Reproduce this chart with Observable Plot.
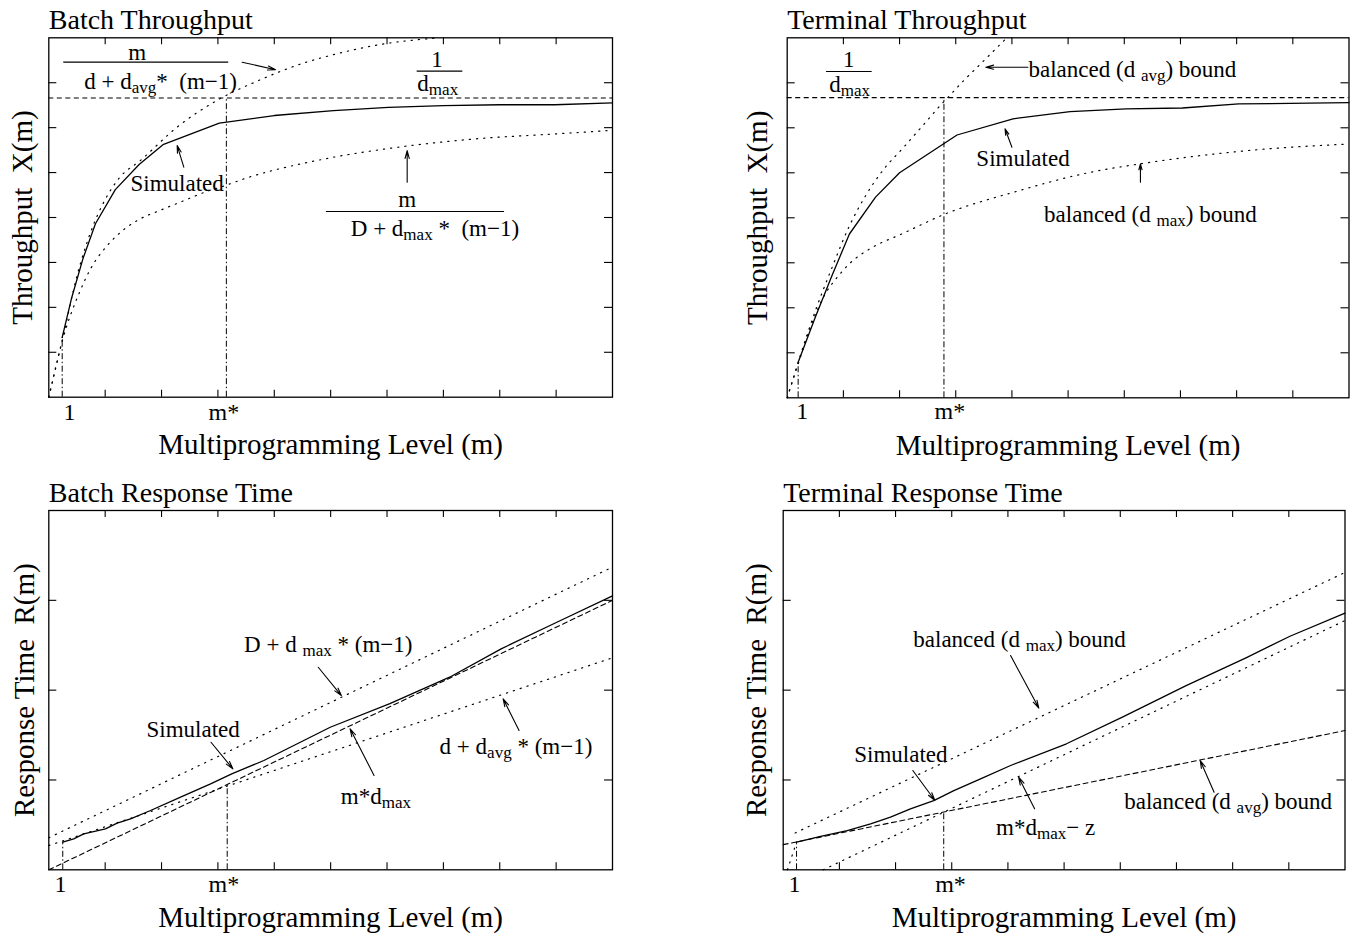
<!DOCTYPE html>
<html><head><meta charset="utf-8">
<script src="https://cdn.jsdelivr.net/npm/d3@7"></script>
<script src="https://cdn.jsdelivr.net/npm/@observablehq/plot@0.6"></script>
<style>
body{margin:0;background:#fff;}
#root{position:relative;width:1355px;height:937px;overflow:hidden;background:#fff}
.panel{position:absolute}
svg text{white-space:pre}
</style></head><body><div id="root"></div>
<script>
const FONT = '"Liberation Serif","Times New Roman",Times,serif';
const XLABEL = "Multiprogramming Level (m)";
const xTicks = [4, 8, 12, 16, 20, 24, 28, 32, 36];
const yTicksX = [1, 2, 3, 4, 5, 6, 7];
const yTicksR = [1, 2, 3];

// ---- Batch Throughput
const btSimM = [0.95, 1.63, 2.42, 3.31, 4.72, 6.41, 8.1, 12.1, 16.0, 20.2, 24.1, 28.0, 32.0, 35.9, 40];
const btSimX = [1.33, 2.22, 3.08, 3.86, 4.62, 5.18, 5.62, 6.10, 6.27, 6.38, 6.45, 6.49, 6.51, 6.51, 6.55];
const btUpM = [0, 1.0, 2.0, 3.0, 4.0, 5.0, 6.5, 9.1, 11.9, 14.75, 18.3, 19.9, 23.5, 27.7];
const btUpX = [0, 1.33, 2.7, 3.7, 4.4, 4.88, 5.27, 6.01, 6.60, 7.03, 7.46, 7.60, 7.85, 8.0];
const btLoM = [0, 1.0, 2.2, 3.04, 4.16, 5.28, 6.49, 7.9, 9.32, 11.21, 12.51, 14.04, 15.93, 18.29, 20.18, 24.67, 30.28, 35.92, 40];
const btLoX = [0, 1.30, 2.35, 2.90, 3.38, 3.72, 3.97, 4.16, 4.34, 4.58, 4.71, 4.88, 5.05, 5.22, 5.34, 5.56, 5.75, 5.86, 5.94];
const btCeil = 6.66, btMStar = 12.6, btOne = 0.95;

// ---- Terminal Throughput
const ttSimM = [0.78, 2.0, 3.14, 4.43, 6.29, 8.0, 12.09, 16.08, 20.14, 24.14, 28.14, 32.15, 40];
const ttSimX = [0.79, 1.79, 2.68, 3.64, 4.46, 5.0, 5.84, 6.2, 6.36, 6.42, 6.44, 6.53, 6.56];
const ttUpM = [0, 0.78, 2.0, 3.2, 4.4, 5.6, 6.8, 8.3, 9.85, 10.91, 11.46, 12.57, 13.77, 15.57];
const ttUpX = [0, 0.79, 1.93, 2.9, 3.8, 4.5, 5.05, 5.57, 6.12, 6.5, 6.68, 7.05, 7.42, 7.98];
const ttLoM = [0, 0.78, 1.57, 2.71, 3.57, 4.43, 6.0, 8.15, 11.29, 16.14, 21.57, 25.15, 33.0, 40];
const ttLoX = [0, 0.75, 1.5, 2.31, 2.68, 2.98, 3.33, 3.64, 4.09, 4.57, 5.01, 5.2, 5.5, 5.64];
const ttCeil = 6.67, ttMStar = 11.16, ttOne = 0.78;

// ---- Batch Response Time
const brSimM = [0.99, 1.77, 2.48, 4.02, 4.85, 5.8, 7.22, 9.35, 11.48, 13.02, 15.26, 19.97, 24.2, 28.44, 32.1, 36.05, 40];
const brSimR = [0.307, 0.345, 0.40, 0.456, 0.519, 0.568, 0.66, 0.81, 0.957, 1.07, 1.217, 1.587, 1.85, 2.144, 2.46, 2.756, 3.05];
const brUpM = [0, 40], brUpR = [0.357, 3.37];
const brLoM = [0, 40], brLoR = [0.27, 2.36];
const brDashM = [0, 40], brDashR = [0, 3.0];
const brMStar = 12.66, brMStarTop = 0.94, brOne = 0.99;

// ---- Terminal Response Time
const trSimM = [0.95, 1.71, 2.66, 4.56, 6.22, 7.64, 9.06, 10.72, 12.15, 14.05, 16.19, 20.17, 24.15, 28.69, 32.95, 36.08, 40];
const trSimR = [0.307, 0.337, 0.371, 0.437, 0.512, 0.586, 0.679, 0.771, 0.882, 1.013, 1.161, 1.403, 1.699, 2.05, 2.36, 2.6, 2.857];
const trUpM = [0.85, 40], trUpR = [0.41, 3.31];
const trStartM = [0.3, 0.95], trStartR = [0.0, 0.307];
const trLoM = [2.85, 40], trLoR = [0, 2.775];
const trDashM = [0, 40], trDashR = [0.28, 1.55];
const trMStar = 11.43, trMStarTop = 0.652, trOne = 0.95;

const rows = (ms, vs) => ms.map((m, i) => ({m, v: vs[i]}));
const SOLID = {strokeWidth: 1.3};
const DOT = {strokeWidth: 1.2, strokeDasharray: "1.2,6"};
const DASH = {strokeWidth: 1.1, strokeDasharray: "5,3.5"};
const DASHDOT = "6,2.5,1.5,2.5";

function subscripts(svg) {
  svg.querySelectorAll("text").forEach(t => {
    const s = t.textContent;
    if (!s.includes("_{")) return;
    t.textContent = "";
    const re = /_\{([^}]*)\}/g;
    let last = 0, m, down = false;
    const add = (str, sub) => {
      const ts = document.createElementNS("http://www.w3.org/2000/svg", "tspan");
      ts.textContent = str;
      if (sub) { ts.setAttribute("font-size", "17"); ts.setAttribute("dy", "4"); down = true; }
      else if (down) { ts.setAttribute("dy", "-4"); down = false; }
      t.appendChild(ts);
    };
    while ((m = re.exec(s))) {
      if (m.index > last) add(s.slice(last, m.index), false);
      add(m[1], true);
      last = re.lastIndex;
    }
    if (last < s.length) add(s.slice(last), false);
  });
}

function panel(c) {
  const innerW = c.width - c.mL - c.mR;
  const innerH = c.height - c.mT - c.mB;
  const marks = [
    Plot.frame({stroke: "black", strokeWidth: 1.3}),
    Plot.tickX(xTicks, {x: d => d, insetTop: innerH - 7, strokeWidth: 1.1}),
    Plot.tickX(xTicks, {x: d => d, insetBottom: innerH - 7, strokeWidth: 1.1}),
    Plot.tickY(c.yTicks, {y: d => d, insetRight: innerW - 8, strokeWidth: 1.1}),
    Plot.tickY(c.yTicks, {y: d => d, insetLeft: innerW - 8, strokeWidth: 1.1}),
    ...c.series.map(s => Plot.line(rows(s.m, s.v), {x: "m", y: "v", stroke: "black", curve: s.curve || "linear", ...s.style})),
    ...(c.ceil != null ? [Plot.ruleY([c.ceil], {y: d => d, stroke: "black", ...DASH})] : []),
    Plot.ruleX(c.vlines, {x: "x", y1: "y1", y2: "y2", stroke: "black", strokeWidth: 1, strokeDasharray: DASHDOT}),
    Plot.ruleY(c.fracs, {y: "y", x1: "x1", x2: "x2", stroke: "black", strokeWidth: 1.2}),
    Plot.arrow(c.arrows, {x1: "x1", y1: "y1", x2: "x2", y2: "y2", stroke: "black", strokeWidth: 1.1, headLength: 11, headAngle: 30}),
    Plot.text(c.notes, {x: "x", y: "y", text: "t", fontSize: 23, fontFamily: FONT, lineAnchor: "bottom", textAnchor: "middle"}),
    Plot.text(c.tickLabels, {x: "x", text: "t", frameAnchor: "bottom", dy: c.tickDy, lineAnchor: "bottom", textAnchor: "middle", fontSize: 24, fontFamily: FONT}),
    Plot.text([c.title], {text: d => d, frameAnchor: "top-left", textAnchor: "start", lineAnchor: "bottom", dy: -9, fontSize: 28, fontFamily: FONT}),
    Plot.text([XLABEL], {text: d => d, frameAnchor: "bottom", textAnchor: "middle", lineAnchor: "bottom", dy: 57, fontSize: 29, fontFamily: FONT}),
    Plot.text([c.ylabel], {text: d => d, frameAnchor: "left", textAnchor: "middle", rotate: -90, lineAnchor: "middle", dx: c.yDx, fontSize: 29, fontFamily: FONT})
  ];
  const svg = Plot.plot({
    width: c.width, height: c.height,
    marginLeft: c.mL, marginRight: c.mR, marginTop: c.mT, marginBottom: c.mB,
    x: {domain: [0, 40], axis: null},
    y: {domain: [0, c.yMax], axis: null},
    style: {background: "white", fontFamily: FONT, color: "black", overflow: "visible"},
    marks
  });
  subscripts(svg);
  const div = document.createElement("div");
  div.className = "panel";
  div.style.left = c.left + "px";
  div.style.top = c.top + "px";
  div.appendChild(svg);
  document.getElementById("root").appendChild(div);
}

panel({
  left: 0, top: 0, width: 677, height: 468, mL: 48.3, mR: 65, mT: 37.3, mB: 71.3, yMax: 8, yTicks: yTicksX,
  title: "Batch Throughput", ylabel: "Throughput  X(m)", yDx: -26, tickDy: 22.6,
  series: [
    {m: btSimM, v: btSimX, style: SOLID},
    {m: btUpM, v: btUpX, style: DOT, curve: "monotone-x"},
    {m: btLoM, v: btLoX, style: DOT, curve: "monotone-x"}
  ],
  ceil: btCeil,
  vlines: [{x: btMStar, y1: 0, y2: btCeil}, {x: btOne, y1: 0, y2: btSimX[0]}],
  fracs: [{x1: 1.06, x2: 12.77, y: 7.457}, {x1: 26.14, x2: 29.38, y: 7.256}, {x1: 19.7, x2: 32.34, y: 4.134}],
  arrows: [{x1: 13.72, y1: 7.457, x2: 16.09, y2: 7.29}, {x1: 9.58, y1: 5.12, x2: 9.11, y2: 5.60}, {x1: 25.43, y1: 4.786, x2: 25.43, y2: 5.49}],
  notes: [
    {t: "m", x: 6.27, y: 7.495},
    {t: "d + d_{avg}*  (m−1)", x: 7.93, y: 6.865},
    {t: "1", x: 27.55, y: 7.345},
    {t: "d_{max}", x: 27.6, y: 6.805},
    {t: "Simulated", x: 9.11, y: 4.585},
    {t: "m", x: 25.43, y: 4.23},
    {t: "D + d_{max} *  (m−1)", x: 27.4, y: 3.599}
  ],
  tickLabels: [{t: "1", x: 1.47}, {t: "m*", x: 12.42}]
});

panel({
  left: 677, top: 0, width: 678, height: 468, mL: 109.7, mR: 6.5, mT: 37.3, mB: 70.7, yMax: 8, yTicks: yTicksX,
  title: "Terminal Throughput", ylabel: "Throughput  X(m)", yDx: -29, tickDy: 21,
  series: [
    {m: ttSimM, v: ttSimX, style: SOLID},
    {m: ttUpM, v: ttUpX, style: DOT, curve: "monotone-x"},
    {m: ttLoM, v: ttLoX, style: DOT, curve: "monotone-x"}
  ],
  ceil: ttCeil,
  vlines: [{x: ttMStar, y1: 0, y2: ttCeil}, {x: ttOne, y1: 0, y2: ttSimX[0]}],
  fracs: [{x1: 2.8, x2: 6.05, y: 7.251}],
  arrows: [{x1: 17.14, y1: 7.347, x2: 14.14, y2: 7.347}, {x1: 16.0, y1: 5.569, x2: 15.51, y2: 5.978}, {x1: 25.15, y1: 4.79, x2: 25.15, y2: 5.2}],
  notes: [
    {t: "1", x: 4.39, y: 7.347},
    {t: "d_{max}", x: 4.44, y: 6.796},
    {t: "balanced (d _{avg}) bound", x: 24.58, y: 7.14},
    {t: "Simulated", x: 16.79, y: 5.162},
    {t: "balanced (d _{max}) bound", x: 25.86, y: 3.902}
  ],
  tickLabels: [{t: "1", x: 1.07}, {t: "m*", x: 11.58}]
});

panel({
  left: 0, top: 468, width: 677, height: 469, mL: 48.3, mR: 65, mT: 42, mB: 67.7, yMax: 4, yTicks: yTicksR,
  title: "Batch Response Time", ylabel: "Response Time  R(m)", yDx: -23.7, tickDy: 21.7,
  series: [
    {m: brSimM, v: brSimR, style: SOLID},
    {m: brUpM, v: brUpR, style: DOT},
    {m: brLoM, v: brLoR, style: DOT},
    {m: brDashM, v: brDashR, style: DASH}
  ],
  ceil: null,
  vlines: [{x: brMStar, y1: 0, y2: brMStarTop}, {x: brOne, y1: 0, y2: brSimR[0]}],
  fracs: [],
  arrows: [{x1: 19.12, y1: 2.255, x2: 20.76, y2: 1.94}, {x1: 11.51, y1: 1.42, x2: 13.06, y2: 1.124}, {x1: 23.08, y1: 1.05, x2: 21.38, y2: 1.57}, {x1: 33.37, y1: 1.551, x2: 32.24, y2: 1.904}],
  notes: [
    {t: "D + d _{max} * (m−1)", x: 19.83, y: 2.422},
    {t: "Simulated", x: 10.24, y: 1.476},
    {t: "m*d_{max}", x: 23.21, y: 0.735},
    {t: "d + d_{avg} * (m−1)", x: 33.15, y: 1.291}
  ],
  tickLabels: [{t: "1", x: 0.83}, {t: "m*", x: 12.42}]
});

panel({
  left: 677, top: 468, width: 678, height: 469, mL: 105.7, mR: 10.5, mT: 42, mB: 67.7, yMax: 4, yTicks: yTicksR,
  title: "Terminal Response Time", ylabel: "Response Time  R(m)", yDx: -26.7, tickDy: 21.7,
  series: [
    {m: trSimM, v: trSimR, style: SOLID},
    {m: trUpM, v: trUpR, style: DOT},
    {m: trStartM, v: trStartR, style: DOT},
    {m: trLoM, v: trLoR, style: DOT},
    {m: trDashM, v: trDashR, style: DASH}
  ],
  ceil: null,
  vlines: [{x: trMStar, y1: 0, y2: trMStarTop}, {x: trOne, y1: 0, y2: trSimR[0]}],
  fracs: [],
  arrows: [{x1: 16.19, y1: 2.386, x2: 18.2, y2: 1.8}, {x1: 9.23, y1: 1.105, x2: 10.79, y2: 0.774}, {x1: 17.9, y1: 0.679, x2: 16.76, y2: 1.031}, {x1: 30.68, y1: 0.864, x2: 29.69, y2: 1.217}],
  notes: [
    {t: "balanced (d _{max}) bound", x: 16.83, y: 2.478},
    {t: "Simulated", x: 8.38, y: 1.198},
    {t: "m*d_{max}− z", x: 18.68, y: 0.382},
    {t: "balanced (d _{avg}) bound", x: 31.68, y: 0.679}
  ],
  tickLabels: [{t: "1", x: 0.80}, {t: "m*", x: 11.91}]
});
</script></body></html>
